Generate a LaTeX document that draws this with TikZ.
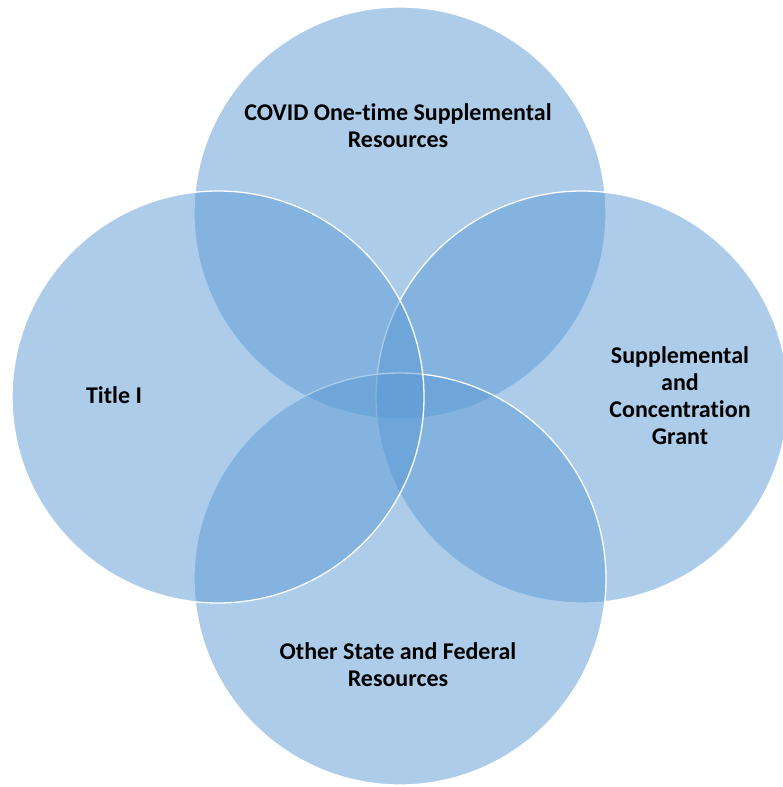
\documentclass[tikz,border=0pt]{standalone}
\usepackage{fontspec}
\setmainfont{Carlito}[Ligatures={NoCommon,NoRequired,NoContextual}]
\begin{document}
\begin{tikzpicture}[x=1pt,y=1pt,
  venn/.style={fill={rgb,255:red,91;green,155;blue,213},fill opacity=0.5,draw=white,line width=1.3pt},
  lbl/.style={font=\bfseries\fontsize{24}{27}\selectfont,align=center,text=black}]
\useasboundingbox (0,0) rectangle (782,787);
\fill[white] (0,0) rectangle (782,787);
\draw[venn] (400,574) circle (206);
\draw[venn] (582,390) circle (206);
\draw[venn] (400,208) circle (206);
\draw[venn] (218,390) circle (206);
\node[lbl] (top) at (398,661) {COVID One-time Supplemental\\Resources};
\node[lbl] (left) at (114,392) {Title I};
\node[lbl] (right) at (680,391) {Supplemental\\and\\Concentration\\Grant};
\node[lbl] (bottom) at (398,122) {Other State and Federal\\Resources};
\end{tikzpicture}
\end{document}
